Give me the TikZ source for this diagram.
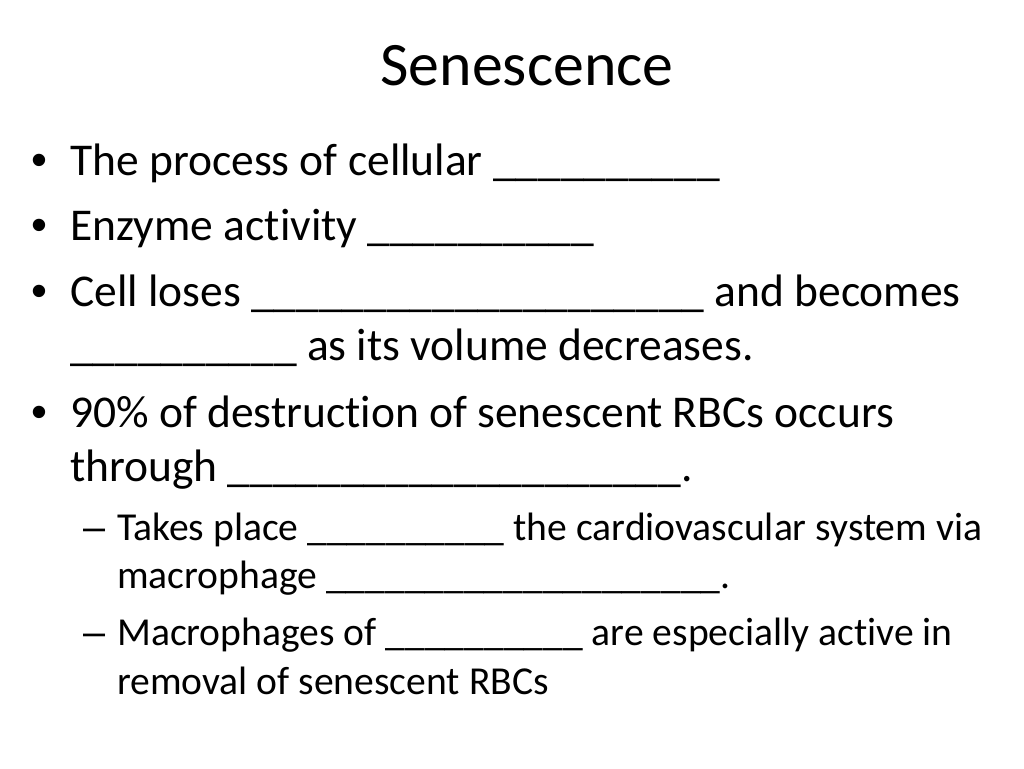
\documentclass[tikz,border=0pt]{standalone}
\usepackage{fontspec}
\setmainfont[Ligatures={NoCommon}]{Carlito}
\newfontfamily\arialfont{Liberation Sans}
\begin{document}
\begin{tikzpicture}[x=1pt,y=-1pt,
  txt/.style={anchor=base west,inner sep=0pt,font=\fontsize{45.5}{54}\selectfont},
  sub/.style={anchor=base west,inner sep=0pt,font=\fontsize{39.6}{47}\selectfont},
  bul/.style={anchor=base west,inner sep=0pt,font=\arialfont\fontsize{45.5}{54}\selectfont},
  dsh/.style={anchor=base west,inner sep=0pt,font=\arialfont\fontsize{39.6}{47}\selectfont},
  ttl/.style={anchor=base,inner sep=0pt,font=\fontsize{61.8}{74}\selectfont}]
\useasboundingbox[fill=white] (0,0) rectangle (1024,768);
\node[ttl] (title) at (527,85) {Senescence};
% bullets
\node[bul] (b1) at (31,175) {•};
\node[txt] (l1) at (70,175) {The process of cellular \_\_\_\_\_\_\_\_\_\_};
\node[bul] (b2) at (31,240) {•};
\node[txt] (l2) at (70,240) {Enzyme activity \_\_\_\_\_\_\_\_\_\_};
\node[bul] (b3) at (31,306) {•};
\node[txt] (l3) at (70,306) {Cell loses \_\_\_\_\_\_\_\_\_\_\_\_\_\_\_\_\_\_\_\_ and becomes};
\node[txt] (l4) at (70,360) {\_\_\_\_\_\_\_\_\_\_ as its volume decreases.};
\node[bul] (b4) at (31,427) {•};
\node[txt] (l5) at (70,427) {90\% of destruction of senescent RBCs occurs};
\node[txt] (l6) at (70,481) {through \_\_\_\_\_\_\_\_\_\_\_\_\_\_\_\_\_\_\_\_.};
% sub bullets
\node[dsh] (d1) at (83,540) {–};
\node[sub] (s1) at (117,540) {Takes place \_\_\_\_\_\_\_\_\_\_ the cardiovascular system via};
\node[sub] (s2) at (117,588) {macrophage \_\_\_\_\_\_\_\_\_\_\_\_\_\_\_\_\_\_\_\_.};
\node[dsh] (d2) at (83,645) {–};
\node[sub] (s3) at (117,645) {Macrophages of \_\_\_\_\_\_\_\_\_\_ are especially active in};
\node[sub] (s4) at (117,694) {removal of senescent RBCs};
\end{tikzpicture}
\end{document}
